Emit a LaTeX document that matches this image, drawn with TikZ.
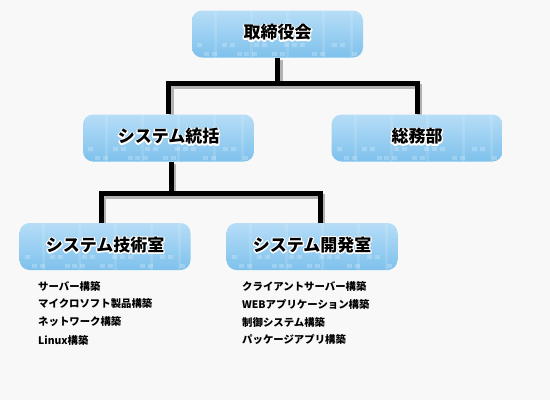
\documentclass[tikz,border=0pt]{standalone}
\usepackage{fontspec}
\setmainfont{Noto Sans CJK JP}
\usetikzlibrary{calc}
\definecolor{bg}{HTML}{F8F8F8}
\definecolor{boxtop}{HTML}{B6DDF7}
\definecolor{boxbot}{HTML}{7EC1EC}
\newcommand\halotext[1]{\leavevmode\rlap{\special{pdf:literal direct 1 Tr 2.6 w 1 j 1 1 1 RG}#1\special{pdf:literal direct 0 Tr 0 0 0 RG}}#1}
\pgfdeclarelayer{bgl}
\pgfdeclarelayer{lines}
\pgfsetlayers{bgl,lines,main}
\tikzset{
  orgbox/.style={rounded corners=10pt, minimum width=171pt, minimum height=47pt,
    inner sep=0pt, draw=none, top color=boxtop, bottom color=boxbot,
    path picture={
      \begin{scope}[sharp corners]
      \foreach \i in {22,58,94,130,158}{
        \fill[white,opacity=.12] ([xshift=\i pt]path picture bounding box.south west) rectangle ++(3pt,47pt);}
      \foreach \i in {5,30,38,62,70,92,100,108,140,148}{
        \fill[white,opacity=.22] ([xshift=\i pt,yshift=11pt]path picture bounding box.south west) rectangle ++(5pt,4pt);}
      \foreach \i in {12,20,45,52,60,80,88,120,128,160}{
        \fill[white,opacity=.22] ([xshift=\i pt,yshift=2pt]path picture bounding box.south west) rectangle ++(5pt,4pt);}
      \end{scope}
    }},
  boxlabel/.style={font=\fontsize{17}{17}\selectfont\bfseries, inner sep=0pt},
  item/.style={font=\fontsize{10.4}{12}\selectfont\bfseries, anchor=west, inner sep=0pt},
  conn/.style={line width=5pt, black},
  connshadow/.style={line width=5pt, black!30, transform canvas={shift={(2.5pt,-2.5pt)}}},
}
\begin{document}
\begin{tikzpicture}[x=1pt,y=-1pt]
\begin{pgfonlayer}{bgl}
\fill[bg] (0,0) rectangle (550,400);
\end{pgfonlayer}
\useasboundingbox (0,0) rectangle (550,400);

\node[orgbox] (top) at (277.5,34) {};
\node[orgbox] (midL) at (168.5,138) {};
\node[orgbox] (midR) at (417,138) {};
\node[orgbox] (botL) at (105,246.5) {};
\node[orgbox] (botR) at (312,246.5) {};

\node[boxlabel] (top-t) at ($(top)+(0,-1.5)$) {\halotext{取締役会}};
\node[boxlabel] (midL-t) at ($(midL)+(0,-1.5)$) {\halotext{システム統括}};
\node[boxlabel] (midR-t) at ($(midR)+(0,-1.5)$) {\halotext{総務部}};
\node[boxlabel] (botL-t) at ($(botL)+(0,-1.5)$) {\halotext{システム技術室}};
\node[boxlabel] (botR-t) at ($(botR)+(0,-1.5)$) {\halotext{システム開発室}};

\coordinate (j1) at ($(top.south)+(0,26)$);
\coordinate (xm) at (171,0);
\coordinate (xl) at (101,0);
\coordinate (xr) at (320,0);
\coordinate (j2) at ($(midL.south -| xm)+(0,32)$);

\begin{pgfonlayer}{lines}
\foreach \s in {connshadow,conn}{
  \draw[\s] (top.south) -- (j1) -| (midL.north);
  \draw[\s] (j1) -| (midR.north);
  \draw[\s] (midL.south -| xm) -- (j2) -| (botL.north -| xl);
  \draw[\s] (j2) -| (botR.north -| xr);
}
\end{pgfonlayer}

\node[item] (l1) at (38,286) {サーバー構築};
\node[item] (l2) at (38,304) {マイクロソフト製品構築};
\node[item] (l3) at (38,322) {ネットワーク構築};
\node[item] (l4) at (38,340) {Linux構築};
\node[item] (r1) at (242,286) {クライアントサーバー構築};
\node[item] (r2) at (242,304) {WEBアプリケーション構築};
\node[item] (r3) at (242,322) {制御システム構築};
\node[item] (r4) at (242,340) {パッケージアプリ構築};
\end{tikzpicture}
\end{document}
